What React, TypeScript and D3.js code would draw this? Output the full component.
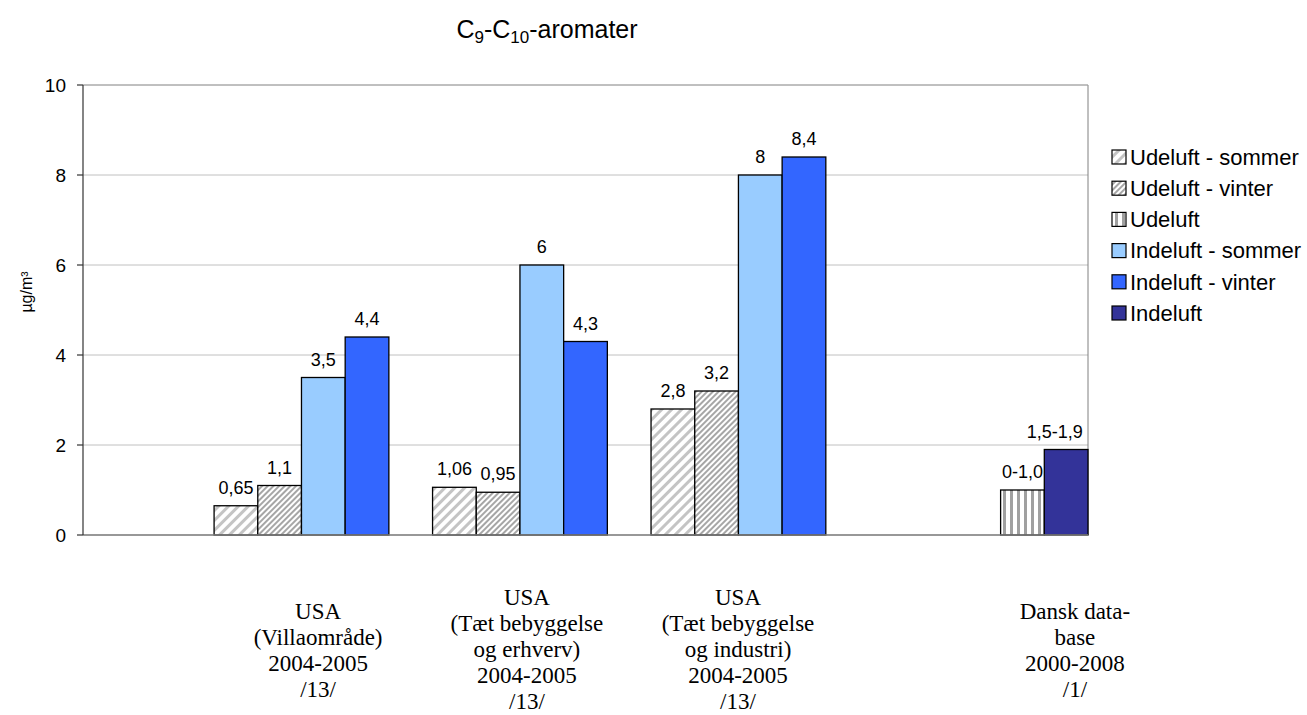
import React from "react";
import * as d3 from "d3";

// ---- data ----
const seriesNames = [
  "Udeluft - sommer",
  "Udeluft - vinter",
  "Udeluft",
  "Indeluft - sommer",
  "Indeluft - vinter",
  "Indeluft",
];
const categoryLines = [
  ["USA", "(Villaområde)", "2004-2005", "/13/"],
  ["USA", "(Tæt bebyggelse", "og erhverv)", "2004-2005", "/13/"],
  ["USA", "(Tæt bebyggelse", "og industri)", "2004-2005", "/13/"],
  ["Dansk data-", "base", "2000-2008", "/1/"],
];
const udeluftSommer = [0.65, 1.06, 2.8, null];
const udeluftVinter = [1.1, 0.95, 3.2, null];
const udeluft = [null, null, null, 1.0];
const indeluftSommer = [3.5, 6, 8, null];
const indeluftVinter = [4.4, 4.3, 8.4, null];
const indeluft = [null, null, null, 1.9];
const seriesValues = [udeluftSommer, udeluftVinter, udeluft, indeluftSommer, indeluftVinter, indeluft];
// explicit label texts where they differ from the plotted value
const udeluftLabels = [null, null, null, "0-1,0"];
const indeluftLabels = [null, null, null, "1,5-1,9"];
const yTicks = [0, 2, 4, 6, 8, 10];
const yLabel = "µg/m³";

// ---- layout ----
const W = 1307;
const H = 715;
const plot = { left: 83, right: 1088, top: 85, bottom: 535 };
const slotCount = 23;
const groupStartSlot = [3, 8, 13, 21];
const labelCenterSlot = [5.38, 10.16, 14.99, 22.7];

const fills = [
  "url(#pSommer)",
  "url(#pVinter)",
  "url(#pUde)",
  "#99CCFF",
  "#3366FF",
  "#333399",
];

const fmt = (v: number) => String(v).replace(".", ",");

export default function App() {
  const x = d3.scaleBand<number>().domain(d3.range(slotCount)).range([plot.left, plot.right]).padding(0);
  const xs = d3.scaleLinear().domain([0, slotCount]).range([plot.left, plot.right]);
  const y = d3.scaleLinear().domain([0, 10]).range([plot.bottom, plot.top]);
  const bw = x.bandwidth();

  type Bar = { s: number; c: number; v: number; slot: number; label: string };
  const bars: Bar[] = [];
  categoryLines.forEach((_, c) => {
    let k = 0;
    seriesValues.forEach((vals, s) => {
      const v = vals[c];
      if (v == null) return;
      let label = fmt(v);
      if (s === 2 && udeluftLabels[c]) label = udeluftLabels[c] as string;
      if (s === 5 && indeluftLabels[c]) label = indeluftLabels[c] as string;
      bars.push({ s, c, v, slot: groupStartSlot[c] + k, label });
      k++;
    });
  });

  const sans = "'Liberation Sans', Arial, sans-serif";
  const serif = "'Liberation Serif', 'Times New Roman', serif";
  const lineH = 26;

  return (
    <svg width={W} height={H} style={{ position: "absolute", left: 0, top: 0, background: "#fff" }}>
      <defs>
        <pattern id="pSommer" patternUnits="userSpaceOnUse" width={7} height={7} patternTransform="rotate(45)">
          <rect width={7} height={7} fill="#fff" />
          <rect width={3} height={7} fill="#c4c4c4" />
        </pattern>
        <pattern id="pVinter" patternUnits="userSpaceOnUse" width={4} height={4} patternTransform="rotate(45)">
          <rect width={4} height={4} fill="#fff" />
          <rect width={2} height={4} fill="#a6a6a6" />
        </pattern>
        <pattern id="pUde" patternUnits="userSpaceOnUse" width={7} height={7}>
          <rect width={7} height={7} fill="#fff" />
          <rect x={2} width={3} height={7} fill="#a0a0a0" />
        </pattern>
      </defs>
      <rect width={W} height={H} fill="#fff" />

      {/* title */}
      <text x={547} y={38} textAnchor="middle" fontFamily={sans} fontSize={25} fill="#000">
        C<tspan fontSize={17} dy={5}>9</tspan>
        <tspan dy={-5}>-C</tspan>
        <tspan fontSize={17} dy={5}>10</tspan>
        <tspan dy={-5}>-aromater</tspan>
      </text>

      {/* gridlines */}
      {yTicks.map((t) => (
        <line key={t} x1={plot.left} x2={plot.right} y1={y(t)} y2={y(t)} stroke="#c0c0c0" strokeWidth={1} />
      ))}
      {/* plot border right/top */}
      <line x1={plot.right} x2={plot.right} y1={plot.top} y2={plot.bottom} stroke="#808080" strokeWidth={1} />
      <line x1={plot.left} x2={plot.right} y1={plot.top} y2={plot.top} stroke="#a0a0a0" strokeWidth={1} />

      {/* bars */}
      {bars.map((b, i) => (
        <rect
          key={i}
          x={x(b.slot)}
          y={y(b.v)}
          width={bw}
          height={y(0) - y(b.v)}
          fill={fills[b.s]}
          stroke="#000"
          strokeWidth={1.3}
        />
      ))}

      {/* bottom axis */}
      <line x1={plot.left} x2={plot.right} y1={plot.bottom} y2={plot.bottom} stroke="#808080" strokeWidth={1.3} />
      {/* left axis */}
      <line x1={plot.left} x2={plot.left} y1={plot.top} y2={plot.bottom} stroke="#333" strokeWidth={1.2} />
      {yTicks.map((t) => (
        <g key={t}>
          <line x1={plot.left - 6} x2={plot.left} y1={y(t)} y2={y(t)} stroke="#333" strokeWidth={1.2} />
          <text x={plot.left - 17} y={y(t)} dy="0.35em" textAnchor="end" fontFamily={sans} fontSize={19} fill="#000">
            {t}
          </text>
        </g>
      ))}
      <text
        transform={`translate(${32},${292}) rotate(-90)`}
        textAnchor="middle"
        fontFamily={sans}
        fontSize={16}
        fill="#000"
      >
        {yLabel}
      </text>

      {/* data labels */}
      {bars.map((b, i) => {
        const cx = (x(b.slot) as number) + bw / 2;
        const approxW = b.label.length * 9.5;
        const cxc = Math.min(cx, plot.right - approxW / 2);
        return (
          <text key={i} x={cxc} y={y(b.v) - 12} textAnchor="middle" fontFamily={sans} fontSize={18} fill="#000">
            {b.label}
          </text>
        );
      })}

      {/* category labels */}
      {categoryLines.map((lines, c) => {
        const first = 619 - (lines.length - 4) * 14;
        return (
          <text key={c} textAnchor="middle" fontFamily={serif} fontSize={23} fill="#000">
            {lines.map((ln, j) => (
              <tspan key={j} x={xs(labelCenterSlot[c])} y={first + j * lineH}>
                {ln}
              </tspan>
            ))}
          </text>
        );
      })}

      {/* legend */}
      {seriesNames.map((n, i) => {
        const cy = 157 + i * 31.2;
        return (
          <g key={n}>
            <rect x={1112} y={cy - 7} width={14} height={14} fill={fills[i]} stroke="#000" strokeWidth={1.2} />
            <text x={1130} y={cy} dy="0.35em" fontFamily={sans} fontSize={22} fill="#000">
              {n}
            </text>
          </g>
        );
      })}
    </svg>
  );
}
